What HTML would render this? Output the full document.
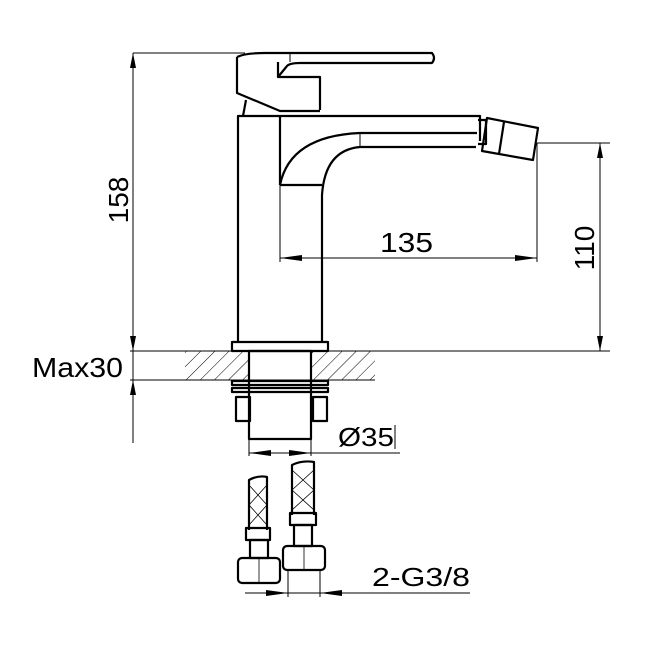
<!DOCTYPE html>
<html><head><style>html,body{margin:0;padding:0;background:#fff;}svg{display:block}</style></head>
<body>
<svg width="664" height="651" viewBox="0 0 664 651" xmlns="http://www.w3.org/2000/svg" font-family="Liberation Sans, Arial, sans-serif">
<defs>
<pattern id="h" width="10" height="10" patternUnits="userSpaceOnUse" patternTransform="rotate(45)"><line x1="0" y1="0" x2="0" y2="10" stroke="#000" stroke-width="1"/></pattern>
</defs>
<g fill="none" stroke="#000" stroke-width="1">
<line x1="133" y1="53" x2="245" y2="53"/>
<line x1="133" y1="53" x2="133" y2="443"/>
<line x1="130" y1="351" x2="610" y2="351"/>
<line x1="130" y1="380" x2="375" y2="380"/>
<line x1="537" y1="143" x2="610" y2="143"/>
<line x1="600" y1="143" x2="600" y2="351"/>
<line x1="280" y1="185" x2="280" y2="262"/>
<line x1="537" y1="143" x2="537" y2="262"/>
<line x1="280" y1="258" x2="537" y2="258"/>
<line x1="249" y1="439" x2="249" y2="456"/>
<line x1="311" y1="439" x2="311" y2="456"/>
<line x1="249" y1="453" x2="400" y2="453"/>
<line x1="245" y1="593" x2="470" y2="593"/>
<line x1="288" y1="570" x2="288" y2="597"/>
<line x1="320" y1="570" x2="320" y2="597"/>
<line x1="395" y1="425" x2="395" y2="449"/>
</g>
<g fill="#000">
<polygon points="133,53 130,68 136,68"/>
<polygon points="133,351 130,336 136,336"/>
<polygon points="133,380 130,395 136,395"/>
<polygon points="600,143 597,158 603,158"/>
<polygon points="600,351 597,336 603,336"/>
<polygon points="280,258 302,255 302,261"/>
<polygon points="537,258 515,255 515,261"/>
<polygon points="249,453 271,450 271,456"/>
<polygon points="311,453 289,450 289,456"/>
<polygon points="288,593 266,590 266,596"/>
<polygon points="320,593 342,590 342,596"/>
</g>
<path d="M185 351 H249 V380 H185 Z M311 351 H375 V380 H311 Z" fill="url(#h)"/>
<g fill="none" stroke="#000" stroke-width="2.2" stroke-linejoin="round">
<path d="M237 57 Q245 53 265 53 H432 Q436 58 432 63 H300 Q290 63 287 66 L278 77 M278 62 V77 H320 V110 M237 57 V93 L280 111 H320"/>
<line x1="290" y1="54" x2="290" y2="62" stroke-width="1"/>
<path d="M246 100 L243 116"/>
<path d="M238 343 V116 H480 V141"/>
<path d="M322 343 V195 Q325 150 360 147 H476"/>
<path d="M280 185 Q290 136 360 133 H477"/>
<line x1="280" y1="116" x2="280" y2="185"/>
<line x1="280" y1="185" x2="322" y2="185"/>
<line x1="360" y1="133" x2="360" y2="147" stroke-width="1"/>
<path d="M478 120 H486 V144 H478"/>
<polygon points="487,118 538,128 533,160 482,151"/>
<line x1="504" y1="122" x2="499" y2="154"/>
<rect x="232" y="342" width="96" height="9"/>
<rect x="249" y="351" width="62" height="88"/>
<rect x="232" y="381" width="96" height="4"/>
<rect x="232" y="388" width="96" height="4"/>
<rect x="236" y="397" width="14" height="24"/>
<rect x="313" y="397" width="14" height="24"/>
<path d="M249 530 V480 Q258 475 267 477 V530"/>
<rect x="246" y="528" width="24" height="12"/>
<rect x="250" y="540" width="18" height="18"/>
<rect x="238" y="558" width="42" height="25" rx="4"/>
<path d="M292 515 V465 Q302 460 314 462 V515"/>
<rect x="290" y="513" width="26" height="12"/>
<rect x="294" y="525" width="18" height="21"/>
<rect x="283" y="546" width="42" height="24" rx="4"/>
</g>
<g stroke="#000" stroke-width="0.8">
<path d="M249 485 L267 505 M267 485 L249 505 M249 505 L267 525 M267 505 L249 525"/>
<path d="M292 470 L314 490 M314 470 L292 490 M292 490 L314 510 M314 490 L292 510"/>
<line x1="259" y1="558" x2="259" y2="583"/>
<line x1="304" y1="546" x2="304" y2="570"/>
</g>
<g fill="#000" font-size="28">
<text x="380" y="252" textLength="53" lengthAdjust="spacingAndGlyphs">135</text>
<text x="32" y="377" textLength="91" lengthAdjust="spacingAndGlyphs">Max30</text>
<text x="338" y="446" font-size="26" textLength="56" lengthAdjust="spacingAndGlyphs">Ø35</text>
<text x="372" y="586" font-size="26" textLength="98" lengthAdjust="spacingAndGlyphs">2-G3/8</text>
<text transform="translate(128,200) rotate(-90)" text-anchor="middle">158</text>
<text transform="translate(594,248) rotate(-90)" text-anchor="middle">110</text>
</g>
</svg>
</body></html>
